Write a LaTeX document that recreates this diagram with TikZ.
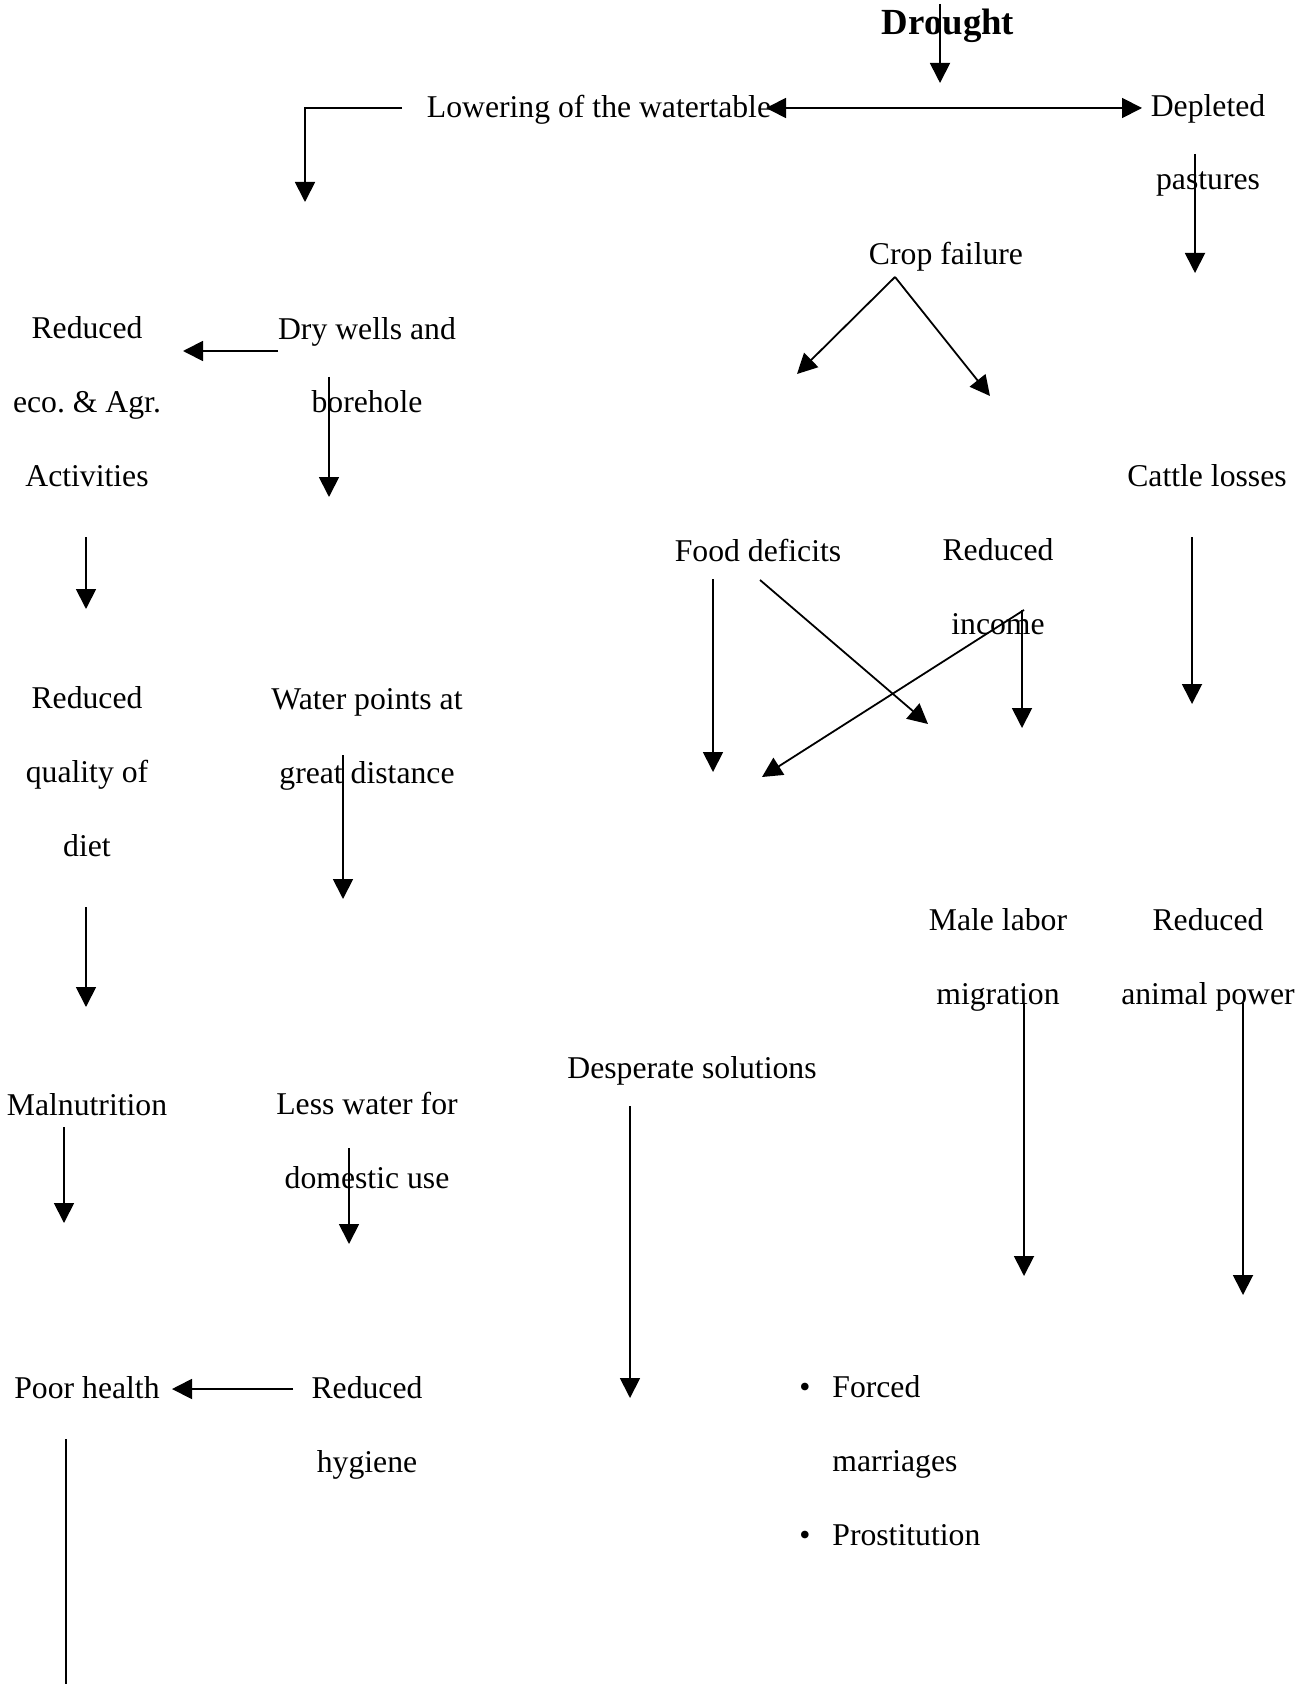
\documentclass[tikz,border=0pt]{standalone}
\usepackage{fontspec}
\setmainfont{Liberation Serif}
\usetikzlibrary{arrows.meta}
\newcommand{\bul}{\makebox[16.5pt][l]{\textbullet}}

\begin{document}
\begin{tikzpicture}[x=0.5pt,y=-0.5pt,>={Triangle[length=10pt,width=10pt]},
  lbl/.style={anchor=base,inner sep=0pt,align=center,font=\fontsize{15.85}{36.8}\selectfont},
  arr/.style={->,line width=0.9pt}]
\useasboundingbox (0,0) rectangle (1303,1684);
\node[lbl,font=\fontsize{18.4}{22}\selectfont\bfseries] (drought) at (948,35) {Drought};
\node[lbl] (lowering) at (599,118) {Lowering of the watertable};
\node[lbl] (depleted) at (1208,190) {Depleted\\pastures};
\node[lbl] (crop) at (946,265) {Crop failure};
\node[lbl] (ecoagr) at (87,486) {Reduced\\eco.\ \& Agr.\\Activities};
\node[lbl] (drywells) at (367,413) {Dry wells and\\borehole};
\node[lbl] (cattle) at (1207,487) {Cattle losses};
\node[lbl] (food) at (758,561) {Food deficits};
\node[lbl] (income) at (998,634) {Reduced\\income};
\node[lbl] (diet) at (87,856) {Reduced\\quality of\\diet};
\node[lbl] (waterpts) at (367,783) {Water points at\\great distance};
\node[lbl] (malelabor) at (998,1004) {Male labor\\migration};
\node[lbl] (animal) at (1208,1004) {Reduced\\animal power};
\node[lbl] (desperate) at (692,1078) {Desperate solutions};
\node[lbl] (malnut) at (87,1115) {Malnutrition};
\node[lbl] (lesswater) at (367,1188) {Less water for\\domestic use};
\node[lbl] (poorhealth) at (87,1398) {Poor health};
\node[lbl] (hygiene) at (367,1472) {Reduced\\hygiene};
\node[lbl,anchor=base west,align=left] (forced) at (799,1545) {\bul Forced\\\hspace*{16.5pt}marriages\\\bul Prostitution};

\coordinate (drA) at (940,4);    \coordinate (drB) at (940,83);
\coordinate (lwA) at (402,108);  \coordinate (lwK) at (305,108);  \coordinate (lwB) at (305,202);
\coordinate (dbA) at (766,108);  \coordinate (dbB) at (1142,108);
\coordinate (dpA) at (1195,154); \coordinate (dpB) at (1195,273);
\coordinate (cfA) at (895,277);  \coordinate (cfL) at (797,374);  \coordinate (cfR) at (990,396);
\coordinate (dwA) at (278,351);  \coordinate (dwB) at (183,351);
\coordinate (dwC) at (329,377);  \coordinate (dwD) at (329,497);
\coordinate (acA) at (86,537);   \coordinate (acB) at (86,609);
\coordinate (clA) at (1192,537); \coordinate (clB) at (1192,704);
\coordinate (fdA) at (713,579);  \coordinate (fdB) at (713,772);
\coordinate (fdC) at (760,580);  \coordinate (fdD) at (928,724);
\coordinate (inA) at (1024,610); \coordinate (inB) at (762,777);
\coordinate (inC) at (1022,610); \coordinate (inD) at (1022,728);
\coordinate (wpA) at (343,755);  \coordinate (wpB) at (343,899);
\coordinate (qdA) at (86,907);   \coordinate (qdB) at (86,1007);
\coordinate (mlA) at (1024,1003); \coordinate (mlB) at (1024,1276);
\coordinate (apA) at (1243,1003); \coordinate (apB) at (1243,1295);
\coordinate (dsA) at (630,1106); \coordinate (dsB) at (630,1398);
\coordinate (mnA) at (64,1127);  \coordinate (mnB) at (64,1223);
\coordinate (lwtA) at (349,1148); \coordinate (lwtB) at (349,1244);
\coordinate (hyA) at (293,1389); \coordinate (hyB) at (172,1389);
\coordinate (phA) at (66,1439);  \coordinate (phB) at (66,1684);

\draw[arr] (drA) -- (drB);
\draw[arr] (lwA) -- (lwK) -- (lwB);
\draw[arr,<->] (dbA) -- (dbB);
\draw[arr] (dpA) -- (dpB);
\draw[arr] (cfA) -- (cfL);
\draw[arr] (cfA) -- (cfR);
\draw[arr] (dwA) -- (dwB);
\draw[arr] (dwC) -- (dwD);
\draw[arr] (acA) -- (acB);
\draw[arr] (clA) -- (clB);
\draw[arr] (fdA) -- (fdB);
\draw[arr] (fdC) -- (fdD);
\draw[arr] (inA) -- (inB);
\draw[arr] (inC) -- (inD);
\draw[arr] (wpA) -- (wpB);
\draw[arr] (qdA) -- (qdB);
\draw[arr] (mlA) -- (mlB);
\draw[arr] (apA) -- (apB);
\draw[arr] (dsA) -- (dsB);
\draw[arr] (mnA) -- (mnB);
\draw[arr] (lwtA) -- (lwtB);
\draw[arr] (hyA) -- (hyB);
\draw[line width=0.9pt] (phA) -- (phB);
\end{tikzpicture}
\end{document}
